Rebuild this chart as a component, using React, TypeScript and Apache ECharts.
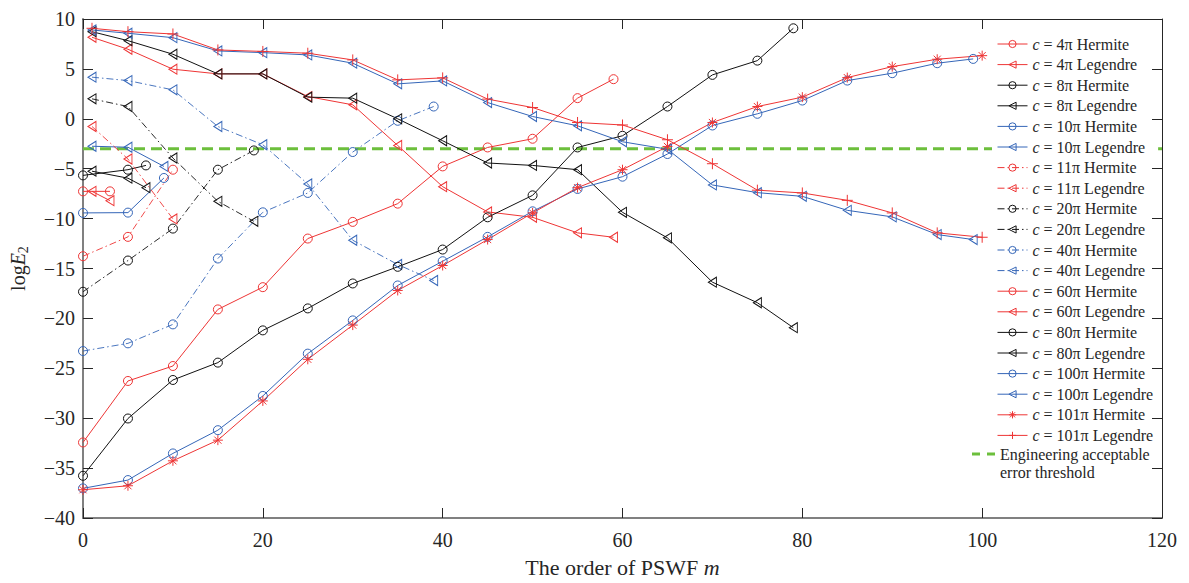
import React, { useEffect, useRef } from "react";
import * as echarts from "echarts";

// ---------- data ----------
const xTicks = [0, 20, 40, 60, 80, 100, 120];
const yTicks = [-40, -35, -30, -25, -20, -15, -10, -5, 0, 5, 10];

const m4H = [0, 3];
const v4H = [-7.27, -7.27];
const m4L = [1, 3];
const v4L = [-7.27, -8.2];

const m8H = [0, 5, 7];
const v8H = [-5.67, -5.1, -4.67];
const m8L = [1, 5, 7];
const v8L = [-5.25, -5.95, -6.9];

const m10H = [0, 5, 9];
const v10H = [-9.43, -9.4, -5.93];
const m10L = [1, 5, 9];
const v10L = [-2.75, -2.85, -4.77];

const m11H = [0, 5, 10];
const v11H = [-13.77, -11.83, -5.1];
const m11L = [1, 5, 10];
const v11L = [-0.77, -4.03, -10.03];

const m20H = [0, 5, 10, 15, 19];
const v20H = [-17.33, -14.2, -11.0, -5.1, -3.17];
const m20L = [1, 5, 10, 15, 19];
const v20L = [2.0, 1.23, -3.93, -8.27, -10.27];

const m40H = [0, 5, 10, 15, 20, 25, 30, 35, 39];
const v40H = [-23.27, -22.5, -20.6, -14.0, -9.37, -7.43, -3.33, -0.2, 1.23];
const m40L = [1, 5, 10, 15, 20, 25, 30, 35, 39];
const v40L = [4.17, 3.83, 2.9, -0.77, -2.6, -6.53, -12.17, -14.6, -16.2];

const m60H = [0, 5, 10, 15, 20, 25, 30, 35, 40, 45, 50, 55, 59];
const v60H = [-32.43, -26.27, -24.77, -19.1, -16.87, -12.0, -10.33, -8.5, -4.77, -2.87, -2.0, 2.07, 3.97];
const m60L = [1, 5, 10, 15, 20, 25, 30, 35, 40, 45, 50, 55, 59];
const v60L = [8.17, 6.97, 4.97, 4.5, 4.5, 2.23, 1.4, -2.67, -6.8, -9.33, -9.87, -11.43, -11.87];

const m80H = [0, 5, 10, 15, 20, 25, 30, 35, 40, 45, 50, 55, 60, 65, 70, 75, 79];
const v80H = [-35.77, -30.03, -26.17, -24.43, -21.2, -19.0, -16.5, -14.83, -13.1, -9.87, -7.67, -2.87, -1.7, 1.23, 4.4, 5.83, 9.07];
const m80L = [1, 5, 10, 15, 20, 25, 30, 35, 40, 45, 50, 55, 60, 65, 70, 75, 79];
const v80L = [8.73, 7.83, 6.47, 4.5, 4.5, 2.17, 2.07, 0, -2.2, -4.43, -4.67, -5.1, -9.37, -11.93, -16.37, -18.43, -20.93];

const m100H = [0, 5, 10, 15, 20, 25, 30, 35, 40, 45, 50, 55, 60, 65, 70, 75, 80, 85, 90, 95, 99];
const v100H = [-37.03, -36.2, -33.53, -31.2, -27.77, -23.53, -20.2, -16.7, -14.27, -11.83, -9.27, -7.03, -5.8, -3.53, -0.67, 0.5, 1.83, 3.83, 4.57, 5.57, 6.0];
const m100L = [1, 5, 10, 15, 20, 25, 30, 35, 40, 45, 50, 55, 60, 65, 70, 75, 80, 85, 90, 95, 99];
const v100L = [8.9, 8.57, 8.13, 6.8, 6.63, 6.4, 5.57, 3.5, 3.8, 1.63, 0.23, -0.7, -2.3, -3.05, -6.63, -7.4, -7.77, -9.17, -9.83, -11.6, -12.1];

const m101H = [0, 5, 10, 15, 20, 25, 30, 35, 40, 45, 50, 55, 60, 65, 70, 75, 80, 85, 90, 95, 100];
const v101H = [-37.17, -36.77, -34.27, -32.2, -28.27, -24.1, -20.67, -17.2, -14.7, -12.1, -9.43, -6.9, -5.1, -2.77, -0.37, 1.23, 2.17, 4.13, 5.23, 5.97, 6.33];
const m101L = [1, 5, 10, 15, 20, 25, 30, 35, 40, 45, 50, 55, 60, 65, 70, 75, 80, 85, 90, 95, 100];
const v101L = [9.07, 8.73, 8.5, 6.9, 6.75, 6.57, 5.9, 3.9, 4.1, 1.97, 1.13, -0.37, -0.62, -2.1, -4.5, -7.15, -7.43, -8.17, -9.43, -11.43, -11.87];

const thresholdM = [0, 120];
const thresholdV = [-3, -3];

// ---------- styles ----------
const FONT = '"Liberation Serif", "Times New Roman", serif';
const TXT = "#262626";
const RED = "#ee3535";
const BLUE = "#3566b8";
const BLACK = "#111111";
const GREEN = "#6cbf3c";

const SYM: Record<string, string> = {
  circle: "path://M9,4.5A4.5,4.5,0,1,1,0,4.5A4.5,4.5,0,1,1,9,4.5Z",
  tri: "path://M0,5L8,0L8,10Z",
  star: "path://M4.5,0L4.5,9M0,4.5L9,4.5M1.3,1.3L7.7,7.7M1.3,7.7L7.7,1.3",
  plus: "path://M4.5,0L4.5,9M0,4.5L9,4.5",
};
const SIZE: Record<string, any> = {
  circle: 9,
  tri: [8, 10],
  star: 10,
  plus: 11,
};

type Def = [string, number[], number[], string, string, boolean];
const defs: Def[] = [
  ["c = 4π Hermite", m4H, v4H, RED, "circle", false],
  ["c = 4π Legendre", m4L, v4L, RED, "tri", false],
  ["c = 8π Hermite", m8H, v8H, BLACK, "circle", false],
  ["c = 8π Legendre", m8L, v8L, BLACK, "tri", false],
  ["c = 10π Hermite", m10H, v10H, BLUE, "circle", false],
  ["c = 10π Legendre", m10L, v10L, BLUE, "tri", false],
  ["c = 11π Hermite", m11H, v11H, RED, "circle", true],
  ["c = 11π Legendre", m11L, v11L, RED, "tri", true],
  ["c = 20π Hermite", m20H, v20H, BLACK, "circle", true],
  ["c = 20π Legendre", m20L, v20L, BLACK, "tri", true],
  ["c = 40π Hermite", m40H, v40H, BLUE, "circle", true],
  ["c = 40π Legendre", m40L, v40L, BLUE, "tri", true],
  ["c = 60π Hermite", m60H, v60H, RED, "circle", false],
  ["c = 60π Legendre", m60L, v60L, RED, "tri", false],
  ["c = 80π Hermite", m80H, v80H, BLACK, "circle", false],
  ["c = 80π Legendre", m80L, v80L, BLACK, "tri", false],
  ["c = 100π Hermite", m100H, v100H, BLUE, "circle", false],
  ["c = 100π Legendre", m100L, v100L, BLUE, "tri", false],
  ["c = 101π Hermite", m101H, v101H, RED, "star", false],
  ["c = 101π Legendre", m101L, v101L, RED, "plus", false],
];
const THRESH = "Engineering acceptable";

function buildOption() {
  const series: any[] = defs.map(([name, ms, vs, color, mk, dd]) => ({
    type: "line",
    name,
    data: ms.map((m, i) => [m, vs[i]]),
    symbol: SYM[mk],
    symbolSize: SIZE[mk],
    showAllSymbol: true,
    lineStyle: { color, width: dd ? 0.9 : 1, type: dd ? [7, 3, 1.5, 3] : "solid" },
    itemStyle: { color: "rgba(0,0,0,0)", borderColor: color, borderWidth: 1 },
    emphasis: { disabled: true },
    z: 3,
  }));
  series.push({
    type: "line",
    name: THRESH,
    data: thresholdM.map((m, i) => [m, thresholdV[i]]),
    symbol: "none",
    lineStyle: { color: GREEN, width: 3, type: [11, 6] },
    itemStyle: { color: GREEN },
    emphasis: { disabled: true },
    z: 2,
  });

  const yFmt = (v: number) => String(v).replace("-", "\u2212");

  const legendData = defs.map(([name, , , color, mk]) => ({
    name,
    itemStyle: { color: "rgba(0,0,0,0)", borderColor: color, borderWidth: 1 },
    lineStyle: { color, width: 1 },
  }));

  return {
    animation: false,
    backgroundColor: "#ffffff",
    grid: { left: 80, right: 27, top: 19, bottom: 64 },
    xAxis: [
      {
        type: "value",
        min: 0,
        max: 120,
        interval: 20,
        position: "bottom",
        axisLine: { onZero: false, lineStyle: { color: "#808080", width: 2 } },
        axisTick: { inside: true, length: 10, lineStyle: { color: TXT, width: 1 } },
        axisLabel: { fontFamily: FONT, fontSize: 20, color: TXT, margin: 12 },
        splitLine: { show: false },
        name: "{n|The order of PSWF }{i|m}",
        nameLocation: "middle",
        nameGap: 38,
        nameTextStyle: {
          fontFamily: FONT,
          fontSize: 22,
          color: TXT,
          rich: {
            n: { fontFamily: FONT, fontSize: 22, color: TXT },
            i: { fontFamily: FONT, fontSize: 22, color: TXT, fontStyle: "italic" },
          },
        },
      },
      {
        type: "value",
        min: 0,
        max: 120,
        interval: 20,
        position: "top",
        axisLine: { onZero: false, lineStyle: { color: TXT, width: 1 } },
        axisTick: { inside: true, length: 10, lineStyle: { color: TXT, width: 1 } },
        axisLabel: { show: false },
        splitLine: { show: false },
      },
    ],
    yAxis: [
      {
        type: "value",
        min: -40,
        max: 10,
        interval: 5,
        position: "left",
        axisLine: { onZero: false, lineStyle: { color: "#808080", width: 2 } },
        axisTick: { inside: true, length: 10, lineStyle: { color: TXT, width: 1 } },
        axisLabel: { fontFamily: FONT, fontSize: 20, color: TXT, margin: 8, formatter: yFmt },
        splitLine: { show: false },
        name: "{a|log}{b|E}{c|2}",
        nameLocation: "middle",
        nameRotate: 90,
        nameGap: 53,
        nameTextStyle: {
          fontFamily: FONT,
          fontSize: 20,
          color: TXT,
          rich: {
            a: { fontFamily: FONT, fontSize: 20, color: TXT, lineHeight: 24 },
            b: { fontFamily: FONT, fontSize: 20, color: TXT, fontStyle: "italic", lineHeight: 24 },
            c: { fontFamily: FONT, fontSize: 14, color: TXT, lineHeight: 14, verticalAlign: "bottom" },
          },
        },
      },
      {
        type: "value",
        min: -40,
        max: 10,
        interval: 5,
        position: "right",
        z: 8,
        axisLine: { onZero: false, lineStyle: { color: TXT, width: 1 } },
        axisTick: { inside: true, length: 10, lineStyle: { color: TXT, width: 1 } },
        axisLabel: { show: false },
        splitLine: { show: false },
      },
    ],
    legend: [
      {
        data: legendData,
        orient: "vertical",
        left: 992,
        top: 31,
        padding: 5,
        itemGap: 4.6,
        itemWidth: 30,
        itemHeight: 9,
        backgroundColor: "#ffffff",
        selectedMode: false,
        itemStyle: { color: "rgba(0,0,0,0)", borderWidth: 1 },
        formatter: (n: string) => n.replace(/^c/, "{i|c}"),
        textStyle: {
          fontFamily: FONT,
          fontSize: 16,
          color: TXT,
          lineHeight: 16,
          rich: {
            i: { fontFamily: FONT, fontSize: 16, color: TXT, fontStyle: "italic", lineHeight: 16 },
          },
        },
      },
      {
        data: [
          {
            name: THRESH,
            icon: "path://M0,0L8,0L8,3L0,3ZM15,0L23,0L23,3L15,3Z",
            itemStyle: { color: GREEN, borderWidth: 0 },
          },
        ],
        orient: "vertical",
        left: 972,
        top: 446,
        padding: 0,
        itemWidth: 23,
        itemHeight: 3,
        selectedMode: false,
        textStyle: { fontFamily: FONT, fontSize: 16, color: TXT, lineHeight: 16 },
      },
    ],
    graphic: [
      {
        type: "text",
        left: 1000,
        top: 464,
        z: 10,
        style: { text: "error threshold", font: `16px ${FONT}`, fill: TXT },
      },
    ],
    series,
  };
}

export default function App() {
  const ref = useRef<HTMLDivElement>(null);
  useEffect(() => {
    if (!ref.current) return;
    const chart = echarts.init(ref.current, undefined, { renderer: "svg" });
    chart.setOption(buildOption() as any);
    return () => chart.dispose();
  }, []);
  return <div ref={ref} style={{ width: 1189, height: 583, position: "absolute", left: 0, top: 0 }} />;
}
